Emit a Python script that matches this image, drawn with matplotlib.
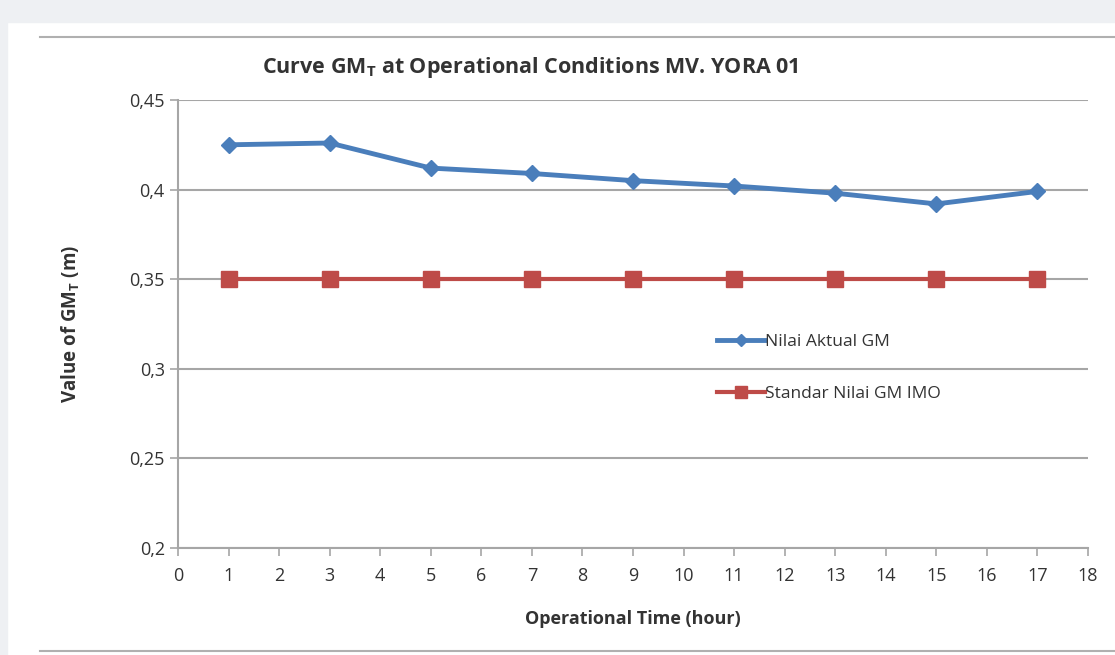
import matplotlib
matplotlib.use("Agg")
import matplotlib.pyplot as plt
from matplotlib.patches import Rectangle
from matplotlib.lines import Line2D

# operational time (hour) and GM_T values
hours = [1, 3, 5, 7, 9, 11, 13, 15, 17]
gm_actual = [0.425, 0.426, 0.412, 0.409, 0.405, 0.402, 0.398, 0.392, 0.399]
gm_imo = [0.35, 0.35, 0.35, 0.35, 0.35, 0.35, 0.35, 0.35, 0.35]

y_ticks = [0.2, 0.25, 0.3, 0.35, 0.4, 0.45]
y_tick_labels = ["0,2", "0,25", "0,3", "0,35", "0,4", "0,45"]
x_ticks = list(range(0, 19))

BLUE = "#4a7ebb"
RED = "#be4b48"
GRID = "#a6a6a6"
TEXT = "#333333"

plt.rcParams["font.family"] = ["Open Sans", "DejaVu Sans"]

fig = plt.figure(figsize=(11.15, 6.55), dpi=100)
fig.patch.set_facecolor("white")

# light gray page strips and the chart box lines
fig.patches.append(Rectangle((0, 1 - 22 / 655), 1, 22 / 655, transform=fig.transFigure,
                             color="#eef0f3", zorder=0))
fig.patches.append(Rectangle((0, 0), 7 / 1115, 1, transform=fig.transFigure,
                             color="#eef0f3", zorder=0))
fig.lines.append(Line2D([40 / 1115, 1], [1 - 37 / 655] * 2, transform=fig.transFigure,
                        color="#b0b0b0", lw=1.5))
fig.lines.append(Line2D([40 / 1115, 1], [1 - 651 / 655] * 2, transform=fig.transFigure,
                        color="#b0b0b0", lw=1.5))

ax = fig.add_axes([178 / 1115, 1 - 548 / 655, 910 / 1115, 448 / 655])

ax.plot(hours, gm_actual, color=BLUE, lw=3.5, marker="D", markersize=8,
        label="Nilai Aktual GM", zorder=4)
ax.plot(hours, gm_imo, color=RED, lw=3, marker="s", markersize=12,
        label="Standar Nilai GM IMO", zorder=3)

ax.set_xlim(0, 18)
ax.set_ylim(0.2, 0.45)
ax.set_xticks(x_ticks)
ax.set_yticks(y_ticks)
ax.set_yticklabels(y_tick_labels)
ax.grid(axis="y", color=GRID, lw=1.5)
ax.set_axisbelow(True)

for side in ["top", "right"]:
    ax.spines[side].set_visible(False)
for side in ["left", "bottom"]:
    ax.spines[side].set_color(GRID)
    ax.spines[side].set_linewidth(1.5)

ax.tick_params(axis="both", colors=GRID, width=1.2, length=6, labelsize=13,
               labelcolor=TEXT)
ax.tick_params(axis="x", pad=8)

ax.set_xlabel("Operational Time (hour)", fontsize=13, fontweight="bold",
              color=TEXT, labelpad=18)
ax.set_ylabel("Value of GM$_\\mathregular{T}$ (m)", fontsize=13.5, fontweight="bold",
              color=TEXT, labelpad=34)

fig.text(530 / 1115, 1 - 68 / 655, "Curve GM$_\\mathregular{T}$ at Operational Conditions MV. YORA 01",
         ha="center", va="center", fontsize=15.5, fontweight="bold", color=TEXT)

ax.legend(loc="upper left", bbox_to_anchor=(0.575, 0.512), frameon=False,
          fontsize=12.5, handlelength=2.8, handletextpad=0.0, labelspacing=2.05,
          markerscale=0.75, labelcolor=TEXT)

fig.savefig("out.png", dpi=100)
